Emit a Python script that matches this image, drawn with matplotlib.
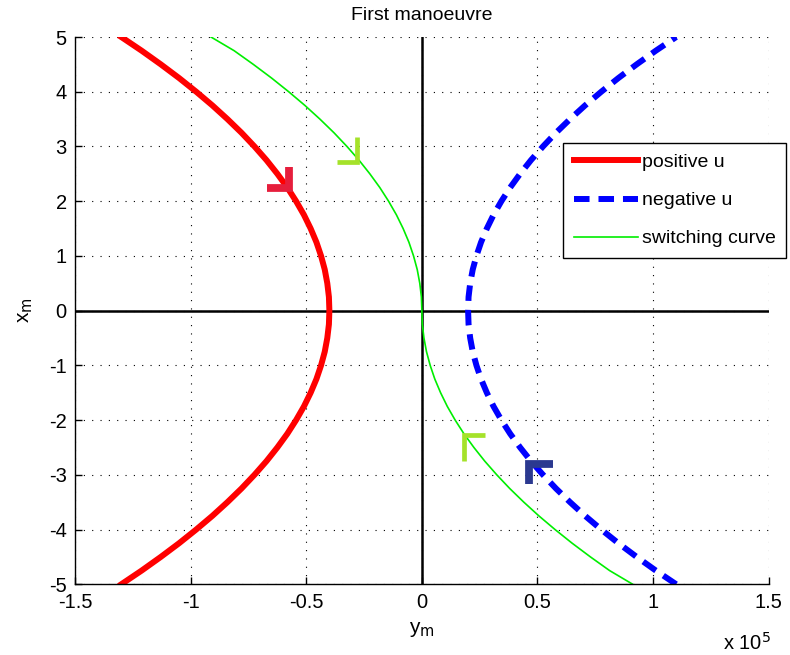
import matplotlib
matplotlib.use("Agg")
import matplotlib.pyplot as plt

plt.rcParams['font.family'] = ['Liberation Sans', 'DejaVu Sans']
plt.rcParams['axes.unicode_minus'] = False

# x_m samples, lower half (the curves are symmetric about x_m = 0)
xm_half = [-5, -4.75, -4.5, -4.25, -4, -3.75, -3.5, -3.25, -3, -2.75, -2.5,
           -2.25, -2, -1.75, -1.5, -1.25, -1, -0.75, -0.5, -0.25, 0]
# y_m on those samples, units of 1e5
pos_half = [-1.300, -1.212, -1.129, -1.050, -0.976, -0.906, -0.841, -0.780, -0.724, -0.672, -0.625,
            -0.582, -0.544, -0.510, -0.481, -0.456, -0.436, -0.420, -0.409, -0.402, -0.400]
neg_half = [1.100, 1.012, 0.929, 0.850, 0.776, 0.706, 0.641, 0.580, 0.524, 0.472, 0.425,
            0.382, 0.344, 0.310, 0.281, 0.256, 0.236, 0.220, 0.209, 0.202, 0.200]
sw_half = [0.912, 0.812, 0.729, 0.650, 0.576, 0.506, 0.441, 0.380, 0.324, 0.272, 0.225,
           0.182, 0.144, 0.110, 0.081, 0.056, 0.036, 0.020, 0.009, 0.002, 0.0]

xm = xm_half + [-v for v in xm_half[-2::-1]]
ym_pos = pos_half + pos_half[-2::-1]
ym_neg = neg_half + neg_half[-2::-1]
ym_sw = sw_half + [-v for v in sw_half[-2::-1]]

# direction markers: corner y, corner x, horizontal arm, vertical arm, colour, width
arrows = [
    (-0.575, 2.250, -0.095, 0.375, '#e61e3c', 5.6),
    (-0.279, 2.724, -0.089, 0.448, '#a5e22a', 3.4),
    (0.182, -2.276, 0.091, -0.475, '#a5e22a', 3.4),
    (0.463, -2.806, 0.104, -0.366, '#2b3990', 5.6),
]

fig = plt.figure(figsize=(7.9, 6.55), dpi=100)
ax = fig.add_axes([0.095, 0.108, 0.878, 0.8355])

ax.plot(ym_pos, xm, color='red', lw=4.3, label='positive u')
ax.plot(ym_neg, xm, color='blue', lw=4.3, ls=(0, (2.6, 1.5)), label='negative u')
ax.plot(ym_sw, xm, color='#00ee00', lw=1.2, label='switching curve')

ax.axhline(0, color='black', lw=1.8, zorder=1)
ax.axvline(0, color='black', lw=1.8, zorder=1)

for y0, x0, dy, dx, c, w in arrows:
    ax.plot([y0 + dy, y0, y0], [x0, x0, x0 + dx], color=c, lw=w,
            solid_joinstyle='miter', solid_capstyle='butt', zorder=4)

ax.set_xlim(-1.5, 1.5)
ax.set_ylim(-5, 5)
ax.set_xticks([-1.5, -1, -0.5, 0, 0.5, 1, 1.5])
ax.set_xticklabels(['-1.5', '-1', '-0.5', '0', '0.5', '1', '1.5'])
ax.set_yticks(range(-5, 6))
ax.tick_params(direction='in', labelsize=14.5, length=5, width=1, pad=6)
ax.grid(True, color='black', ls=(0, (1, 6.5)), lw=0.8)
for s in ['top', 'right']:
    ax.spines[s].set_visible(False)
for s in ['left', 'bottom']:
    ax.spines[s].set_linewidth(1.0)

ax.set_title('First manoeuvre', fontsize=14, pad=12)
ax.set_xlabel('y$_\\mathrm{m}$', fontsize=15, labelpad=6)
ax.set_ylabel('x$_\\mathrm{m}$', fontsize=15, labelpad=10)
fig.text(0.915, 0.008, 'x 10$^5$', fontsize=14.5, va='baseline')

leg = ax.legend(loc='upper left', bbox_to_anchor=(0.7127, 0.7817), bbox_transform=fig.transFigure,
                fontsize=14, handlelength=3.3, labelspacing=1.05, fancybox=False,
                framealpha=1, edgecolor='black', borderpad=0.55, handletextpad=0.2,
                borderaxespad=0)
leg.get_frame().set_linewidth(1.0)

fig.savefig('out.png', dpi=100)
